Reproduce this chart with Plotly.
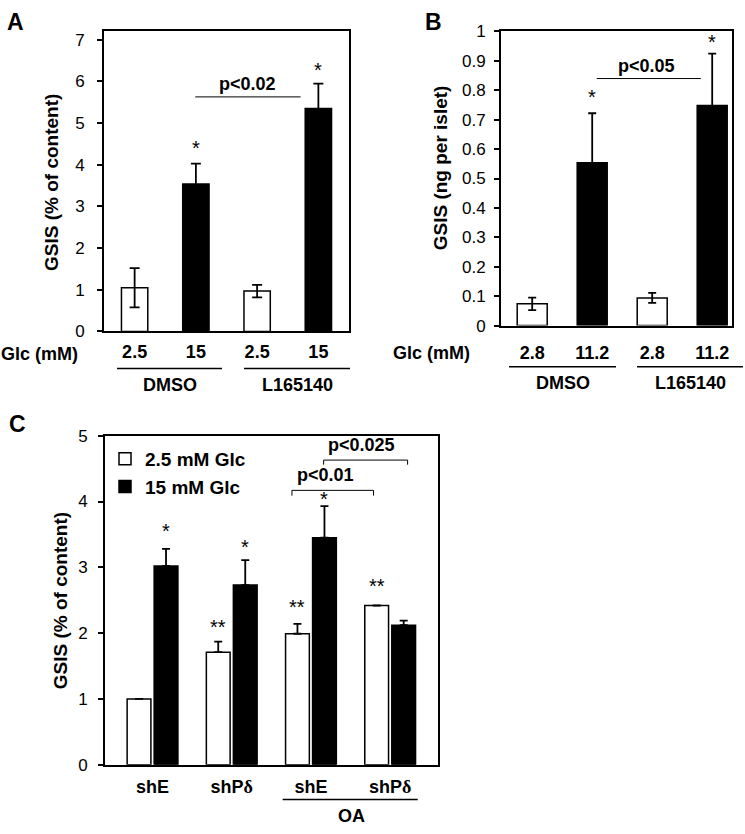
import plotly.graph_objects as go

# ---------------- data ----------------
A_labels = ["2.5", "15", "2.5", "15"]
A_vals = [1.05, 3.54, 0.97, 5.35]
A_err = [0.47, 0.49, 0.15, 0.60]
A_sig = ["", "*", "", "*"]

B_labels = ["2.8", "11.2", "2.8", "11.2"]
B_vals = [0.074, 0.554, 0.094, 0.748]
B_err = [0.021, 0.168, 0.017, 0.177]
B_sig = ["", "*", "", "*"]

C_groups = ["shE", "shP<span style='font-family:Liberation Serif'>δ</span>", "shE",
            "shP<span style='font-family:Liberation Serif'>δ</span>"]
C_low = [1.00, 1.71, 1.99, 2.42]
C_low_err = [0.0, 0.16, 0.15, 0.0]
C_high = [3.02, 2.73, 3.45, 2.12]
C_high_err = [0.26, 0.38, 0.48, 0.07]
C_low_sig = ["", "**", "**", "**"]
C_high_sig = ["*", "*", "*", ""]
C_names = ["2.5 mM Glc", "15 mM Glc"]

A_colors = ["white", "black", "white", "black"]

FONT = "Arial, Liberation Sans, sans-serif"
W, H = 745, 834


def px(x):
    return x / W


def py(y):
    return 1 - y / H


fig = go.Figure()
xs = [0, 1, 2, 3]

# Panel A
fig.add_trace(go.Bar(
    x=xs, y=A_vals, width=0.43, marker=dict(color=A_colors, line=dict(color="black", width=1.5)),
    error_y=dict(type="data", array=A_err, color="black", thickness=1.8, width=5),
    xaxis="x", yaxis="y", showlegend=False))
# Panel B
fig.add_trace(go.Bar(
    x=xs, y=B_vals, width=0.5, marker=dict(color=A_colors, line=dict(color="black", width=1.5)),
    error_y=dict(type="data", array=B_err, color="black", thickness=1.8, width=4),
    xaxis="x2", yaxis="y2", showlegend=False))
# Panel C
fig.add_trace(go.Bar(
    x=xs, y=C_low, name=C_names[0], marker=dict(color="white", line=dict(color="black", width=1.5)),
    error_y=dict(type="data", array=C_low_err, arrayminus=[0] * 4, symmetric=False,
                 color="black", thickness=1.8, width=4),
    xaxis="x3", yaxis="y3", showlegend=True))
fig.add_trace(go.Bar(
    x=xs, y=C_high, name=C_names[1], marker=dict(color="black", line=dict(color="black", width=1.5)),
    error_y=dict(type="data", array=C_high_err, arrayminus=[0] * 4, symmetric=False,
                 color="black", thickness=1.8, width=4),
    xaxis="x3", yaxis="y3", showlegend=True))

BARGAP = 0.318
half = (1 - BARGAP) / 4

axis_common = dict(showgrid=False, zeroline=False, showline=True, linecolor="black",
                   linewidth=2, mirror=True)
xcommon = dict(axis_common, tickmode="array", tickvals=xs, ticks="", ticklen=0,
               tickfont=dict(family=FONT, size=18, color="black", weight="bold"))
ycommon = dict(axis_common, ticks="outside", ticklen=5, tickwidth=1.5, tickcolor="black",
               tickfont=dict(family=FONT, size=17, color="black"))

fig.update_layout(
    width=W, height=H, margin=dict(l=0, r=0, t=0, b=0),
    paper_bgcolor="white", plot_bgcolor="white",
    barmode="group", bargap=BARGAP, bargroupgap=0.12,
    font=dict(family=FONT, color="black"),
    xaxis=dict(xcommon, domain=[px(104), px(349)], range=[-0.5, 3.5], ticktext=A_labels,
               anchor="y", ticklabelstandoff=3),
    yaxis=dict(ycommon, domain=[py(330), py(23)], range=[0, 7.2], dtick=1, anchor="x",
               ticklabelstandoff=9),
    xaxis2=dict(xcommon, domain=[px(501), px(732)], range=[-0.52, 3.33], ticktext=B_labels,
                anchor="y2", ticklabelstandoff=10),
    yaxis2=dict(ycommon, domain=[py(324), py(23)], range=[0, 1], dtick=0.1, anchor="x2",
                ticklabelstandoff=5),
    xaxis3=dict(xcommon, domain=[px(105), px(437.7)], range=[-0.6, 3.6], ticktext=C_groups,
                anchor="y3", ticklabelstandoff=5),
    yaxis3=dict(ycommon, domain=[py(773.3), py(436.7)], range=[0, 5], dtick=1, anchor="x3",
                ticklabelstandoff=7),
    legend=dict(x=px(105), y=py(441), xanchor="left", yanchor="top",
                font=dict(family=FONT, size=19, color="black", weight="bold"),
                bgcolor="rgba(0,0,0,0)", tracegroupgap=0),
)

ann = []
shapes = []
bold = dict(family=FONT, size=18, color="black", weight="bold")


def stars(xref, yref, xpos, tops, errs, sigs, shifts, size=20):
    for x, t, e, s, sh in zip(xpos, tops, errs, sigs, shifts):
        if s:
            ann.append(dict(x=x, y=t + e, xref=xref, yref=yref, text=s, showarrow=False,
                            yanchor="bottom", yshift=sh,
                            font=dict(family=FONT, size=size, color="black")))


stars("x", "y", xs, A_vals, A_err, A_sig, [3, 3, 3, 1])
stars("x2", "y2", xs, B_vals, B_err, B_sig, [3, 3, 3, -1])
stars("x3", "y3", [x - half for x in xs], C_low, C_low_err, C_low_sig, [3, 2, 4, 6])
stars("x3", "y3", [x + half for x in xs], C_high, C_high_err, C_high_sig, [5, 0, -6, 0])

# p-value lines
shapes.append(dict(type="line", xref="x", yref="y", x0=0.99, x1=2.71, y0=5.63, y1=5.63,
                   line=dict(color="black", width=1)))
ann.append(dict(x=1.84, y=5.63, xref="x", yref="y", text="p<0.02", showarrow=False,
                yanchor="bottom", yshift=1, font=bold))
shapes.append(dict(type="line", xref="x2", yref="y2", x0=1.075, x1=2.81, y0=0.84, y1=0.84,
                   line=dict(color="black", width=1)))
ann.append(dict(x=1.91, y=0.84, xref="x2", yref="y2", text="p<0.05", showarrow=False,
                yanchor="bottom", yshift=1, font=bold))
# brackets in C
for (xa, xb, yt, yb, txt, tx) in [(1.76, 2.79, 4.17, 4.09, "p<0.01", 2.18),
                                  (2.16, 3.22, 4.63, 4.56, "p<0.025", 2.64)]:
    shapes.append(dict(type="path", xref="x3", yref="y3",
                       path=f"M {xa},{yb} L {xa},{yt} L {xb},{yt} L {xb},{yb}",
                       line=dict(color="black", width=1)))
    ann.append(dict(x=tx, y=yt, xref="x3", yref="y3", text=txt, showarrow=False,
                    yanchor="bottom", yshift=3, font=bold))

# y titles
title_font = dict(family=FONT, size=19, color="black", weight="bold")
for x, y, t in [(52, 177, "GSIS (% of content)"), (440, 163, "GSIS (ng per islet)"),
                (60, 605, "GSIS (% of content)")]:
    ann.append(dict(x=px(x), y=py(y), xref="paper", yref="paper", text=t, textangle=-90,
                    showarrow=False, xanchor="center", yanchor="middle", font=title_font))

# Glc labels
for xr, y in [(80, 353), (472, 352)]:
    ann.append(dict(x=px(xr), y=py(y), xref="paper", yref="paper", text="Glc (mM)",
                    showarrow=False, xanchor="right", yanchor="middle", font=bold))

# group lines and labels
for x0, x1, y in [(117, 222, 368), (244, 350, 368), (509, 616, 366), (637, 743, 366),
                  (282.7, 417.7, 809)]:
    shapes.append(dict(type="line", xref="paper", yref="paper", x0=px(x0), x1=px(x1),
                       y0=py(y), y1=py(y), line=dict(color="black", width=1.5)))
for x, y, t in [(170, 385, "DMSO"), (297, 385, "L165140"), (563, 383, "DMSO"),
                (690, 383, "L165140"), (351.7, 826, "OA")]:
    ann.append(dict(x=px(x), y=py(y), xref="paper", yref="paper", text=t, showarrow=False,
                    xanchor="center", yanchor="middle", font=bold))

# panel letters
for x, y, t in [(5, 13, "A"), (423, 13, "B"), (7, 425, "C")]:
    ann.append(dict(x=px(x), y=py(y), xref="paper", yref="paper", text=t, showarrow=False,
                    xanchor="left", yanchor="middle",
                    font=dict(family=FONT, size=23, color="black", weight="bold")))

fig.update_layout(annotations=ann, shapes=shapes)
fig.write_html("out.html", config={"displayModeBar": False},
               post_script="document.body.style.margin='0';document.body.style.overflow='hidden';")
